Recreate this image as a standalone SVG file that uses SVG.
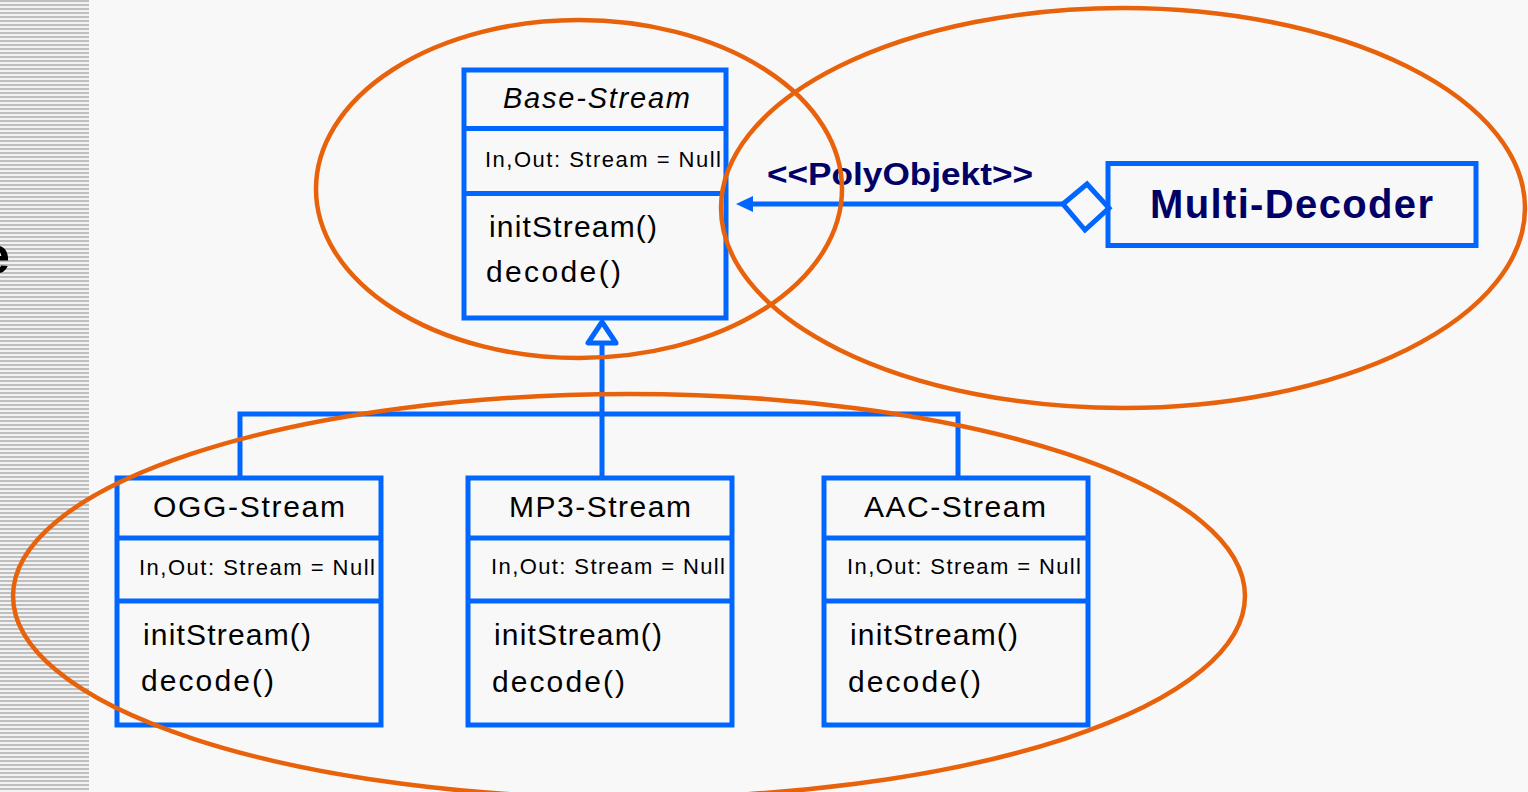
<svg xmlns="http://www.w3.org/2000/svg" width="1528" height="792" viewBox="0 0 1528 792">
  <defs>
    <pattern id="stripes" x="0" y="0" width="8" height="4" patternUnits="userSpaceOnUse">
      <rect width="8" height="4" fill="#f2f2f2"/>
      <rect y="0" width="8" height="2" fill="#bfbfbf"/>
    </pattern>
    <marker id="arrowFilled" viewBox="0 0 18 18" refX="1" refY="9" markerWidth="18" markerHeight="18" markerUnits="userSpaceOnUse" orient="auto-start-reverse">
      <path d="M0,9 L17,1 L17,17 Z" fill="#0066ff"/>
    </marker>
  </defs>
  <style>
    .box { fill: none; stroke: #0066ff; stroke-width: 5; }
    .sep { stroke: #0066ff; stroke-width: 5; }
    .wire { fill: none; stroke: #0066ff; stroke-width: 5; }
    .scope { fill: none; stroke: #e8620c; stroke-width: 4.5; }
    .t { font-family: "Liberation Sans", Arial, sans-serif; fill: #000000; }
    .title { font-size: 30px; }
    .abstract { font-size: 29px; font-style: italic; }
    .attr { font-size: 22px; }
    .op { font-size: 30px; }
    .navy { font-family: "Liberation Sans", Arial, sans-serif; font-weight: bold; fill: #000066; }
  </style>

  <!-- page background and striped side bar -->
  <rect width="1528" height="792" fill="#f8f8f8"/>
  <rect x="0" y="0" width="89" height="792" fill="url(#stripes)"/>
  <text class="t" x="-19" y="273" font-size="52" font-weight="bold">e</text>

  <!-- connectors -->
  <g id="connectors">
    <!-- generalization tree -->
    <polyline class="wire" points="240,478 240,414 958,414 958,478"/>
    <line class="wire" x1="602" y1="343" x2="602" y2="478"/>
    <polygon points="602,322 588,343 616,343" fill="#f8f8f8" stroke="#0066ff" stroke-width="5" stroke-linejoin="round"/>
    <!-- aggregation -->
    <line class="wire" x1="1063" y1="204" x2="752" y2="204"/>
    <path d="M736,204 L753,196 L753,212 Z" fill="#0066ff"/>
    <polygon points="1063,204 1087,184 1109,208 1085,230" fill="#f8f8f8" stroke="#0066ff" stroke-width="5" stroke-linejoin="miter"/>
    <text class="navy" x="767" y="185" font-size="32" textLength="266" lengthAdjust="spacingAndGlyphs">&lt;&lt;PolyObjekt&gt;&gt;</text>
  </g>

  <g id="base-stream">
    <rect class="box" x="464" y="70" width="262" height="248"/>
    <line class="sep" x1="464" y1="128.5" x2="726" y2="128.5"/>
    <line class="sep" x1="464" y1="193.5" x2="726" y2="193.5"/>
    <text class="t abstract" x="503" y="108" textLength="187" lengthAdjust="spacing">Base-Stream</text>
    <text class="t attr" x="485" y="167" textLength="236" lengthAdjust="spacing">In,Out: Stream = Null</text>
    <text class="t op" x="489" y="237" textLength="168" lengthAdjust="spacing">initStream()</text>
    <text class="t op" x="486" y="282" textLength="135" lengthAdjust="spacing">decode()</text>
  </g>

  <g id="multi-decoder">
    <rect class="box" x="1108" y="163.5" width="368" height="82"/>
    <text class="navy" x="1150" y="218" font-size="40" textLength="283" lengthAdjust="spacing">Multi-Decoder</text>
  </g>

  <g id="ogg-stream">
    <rect class="box" x="117" y="478" width="264" height="247"/>
    <line class="sep" x1="117" y1="538" x2="381" y2="538"/>
    <line class="sep" x1="117" y1="601" x2="381" y2="601"/>
    <text class="t title" x="153" y="517" textLength="192" lengthAdjust="spacing">OGG-Stream</text>
    <text class="t attr" x="139" y="575" textLength="236" lengthAdjust="spacing">In,Out: Stream = Null</text>
    <text class="t op" x="143" y="645" textLength="168" lengthAdjust="spacing">initStream()</text>
    <text class="t op" x="141" y="691" textLength="133" lengthAdjust="spacing">decode()</text>
  </g>

  <g id="mp3-stream">
    <rect class="box" x="468" y="478" width="264" height="247"/>
    <line class="sep" x1="468" y1="538" x2="732" y2="538"/>
    <line class="sep" x1="468" y1="601" x2="732" y2="601"/>
    <text class="t title" x="509" y="517" textLength="182" lengthAdjust="spacing">MP3-Stream</text>
    <text class="t attr" x="491" y="574" textLength="234" lengthAdjust="spacing">In,Out: Stream = Null</text>
    <text class="t op" x="494" y="645" textLength="168" lengthAdjust="spacing">initStream()</text>
    <text class="t op" x="492" y="692" textLength="133" lengthAdjust="spacing">decode()</text>
  </g>

  <g id="aac-stream">
    <rect class="box" x="824" y="478" width="264" height="247"/>
    <line class="sep" x1="824" y1="538" x2="1088" y2="538"/>
    <line class="sep" x1="824" y1="601" x2="1088" y2="601"/>
    <text class="t title" x="864" y="517" textLength="182" lengthAdjust="spacing">AAC-Stream</text>
    <text class="t attr" x="847" y="574" textLength="234" lengthAdjust="spacing">In,Out: Stream = Null</text>
    <text class="t op" x="850" y="645" textLength="168" lengthAdjust="spacing">initStream()</text>
    <text class="t op" x="848" y="692" textLength="133" lengthAdjust="spacing">decode()</text>
  </g>

  <!-- grouping outlines -->
  <g id="scopes">
    <ellipse class="scope" cx="579" cy="189" rx="263" ry="169"/>
    <ellipse class="scope" cx="1123" cy="208" rx="402" ry="200"/>
    <ellipse class="scope" cx="629" cy="596" rx="616" ry="202"/>
  </g>
</svg>
